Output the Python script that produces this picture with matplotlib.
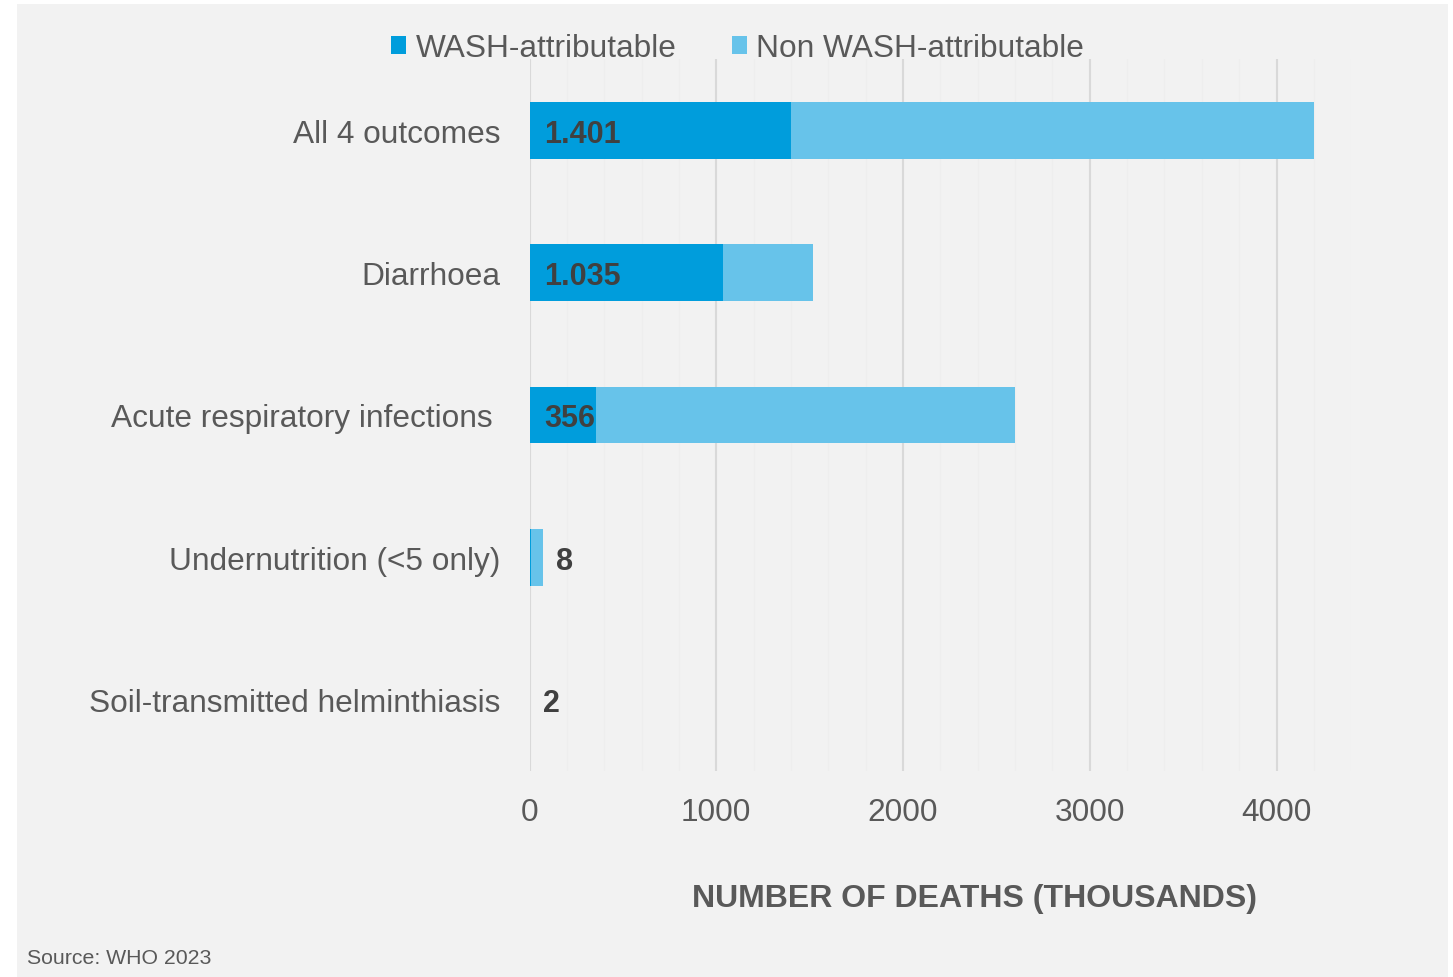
import matplotlib
matplotlib.use("Agg")
import matplotlib.pyplot as plt
from matplotlib.patches import Rectangle, Patch
from matplotlib.ticker import MultipleLocator
import matplotlib.transforms as mtransforms

plt.rcParams['font.family'] = ['Liberation Sans', 'DejaVu Sans']

categories = ["All 4 outcomes", "Diarrhoea", "Acute respiratory infections",
              "Undernutrition (<5 only)", "Soil-transmitted helminthiasis"]
wash = [1401, 1035, 356, 8, 2]
non_wash = [2799, 481, 2246, 62, 0]
value_labels = ["1.401", "1.035", "356", "8", "2"]
x_ticks = [0, 1000, 2000, 3000, 4000]
series_names = ["WASH-attributable", "Non WASH-attributable"]

DARK = "#009DDC"
LIGHT = "#67C3EA"
BG = "#F2F2F2"
TXT = "#595959"
VAL = "#404040"

W, H = 1453, 978
fig = plt.figure(figsize=(W / 100, H / 100), dpi=100)
fig.patch.set_facecolor("white")
fig.add_artist(Rectangle((17 / W, 0), 1431 / W, 973 / H, transform=fig.transFigure,
                         facecolor=BG, edgecolor="none", zorder=-10))

x0, y_top, y_bot = 529.5, 60, 772
px_per = 0.18675
xmax = 4400
x_right = x0 + xmax * px_per
ax = fig.add_axes([x0 / W, 1 - y_bot / H, (x_right - x0) / W, (y_bot - y_top) / H])
ax.set_facecolor("none")

ypos = list(range(len(categories)))
ax.barh(ypos, wash, height=0.4, color=DARK, zorder=3, label=series_names[0])
ax.barh(ypos, non_wash, left=wash, height=0.4, color=LIGHT, zorder=3, label=series_names[1])

ax.set_xlim(0, xmax)
ax.set_ylim(4.5, -0.5)
ax.set_xticks(x_ticks)
ax.set_xticklabels([str(t) for t in x_ticks])
ax.xaxis.set_minor_locator(MultipleLocator(200))
ax.set_yticks(ypos)
ax.set_yticklabels(categories)
ax.tick_params(axis="both", which="both", length=0)
ax.tick_params(axis="both", labelsize=22.8, labelcolor=TXT)
ax.tick_params(axis="x", pad=19)
ax.tick_params(axis="y", pad=21)
ax.grid(axis="x", which="major", color="#D9D9D9", linewidth=1.5, zorder=0)
ax.grid(axis="x", which="minor", color="#EEEEEE", linewidth=0.8, zorder=0)
ax.grid(axis="y", visible=False)
for s in ax.spines.values():
    s.set_visible(False)

# shift ARI label slightly left as in the reference
lbl = ax.get_yticklabels()[2]
lbl.set_transform(lbl.get_transform() + mtransforms.ScaledTranslation(-8 / 100, 0, fig.dpi_scale_trans))

for i, (w, n, t) in enumerate(zip(wash, non_wash, value_labels)):
    total = w + n
    if total > 300:
        ax.annotate(t, xy=(0, i), xytext=(15, 0), textcoords="offset pixels",
                    ha="left", va="center_baseline", fontsize=22, fontweight="bold", color=VAL, zorder=5)
    else:
        ax.annotate(t, xy=(total, i), xytext=(13, 0), textcoords="offset pixels",
                    ha="left", va="center_baseline", fontsize=22, fontweight="bold", color=VAL, zorder=5)

fig.text(974 / W, 1 - 899 / H, "NUMBER OF DEATHS (THOUSANDS)", ha="center", va="center",
         fontsize=23, fontweight="bold", color=TXT)

handles = [Patch(facecolor=DARK, edgecolor="none"), Patch(facecolor=LIGHT, edgecolor="none")]
fig.legend(handles, series_names, loc="center", bbox_to_anchor=(737.5 / W, 1 - 49 / H),
           ncol=2, frameon=False, fontsize=22.8, labelcolor=TXT,
           handlelength=0.48, handleheight=0.48, handletextpad=0.3, columnspacing=1.75,
           borderpad=0, borderaxespad=0)

fig.text(27 / W, 1 - 959 / H, "Source: WHO 2023", ha="left", va="center",
         fontsize=15.3, color=TXT)

fig.savefig("out.png", dpi=100, facecolor=fig.get_facecolor())
